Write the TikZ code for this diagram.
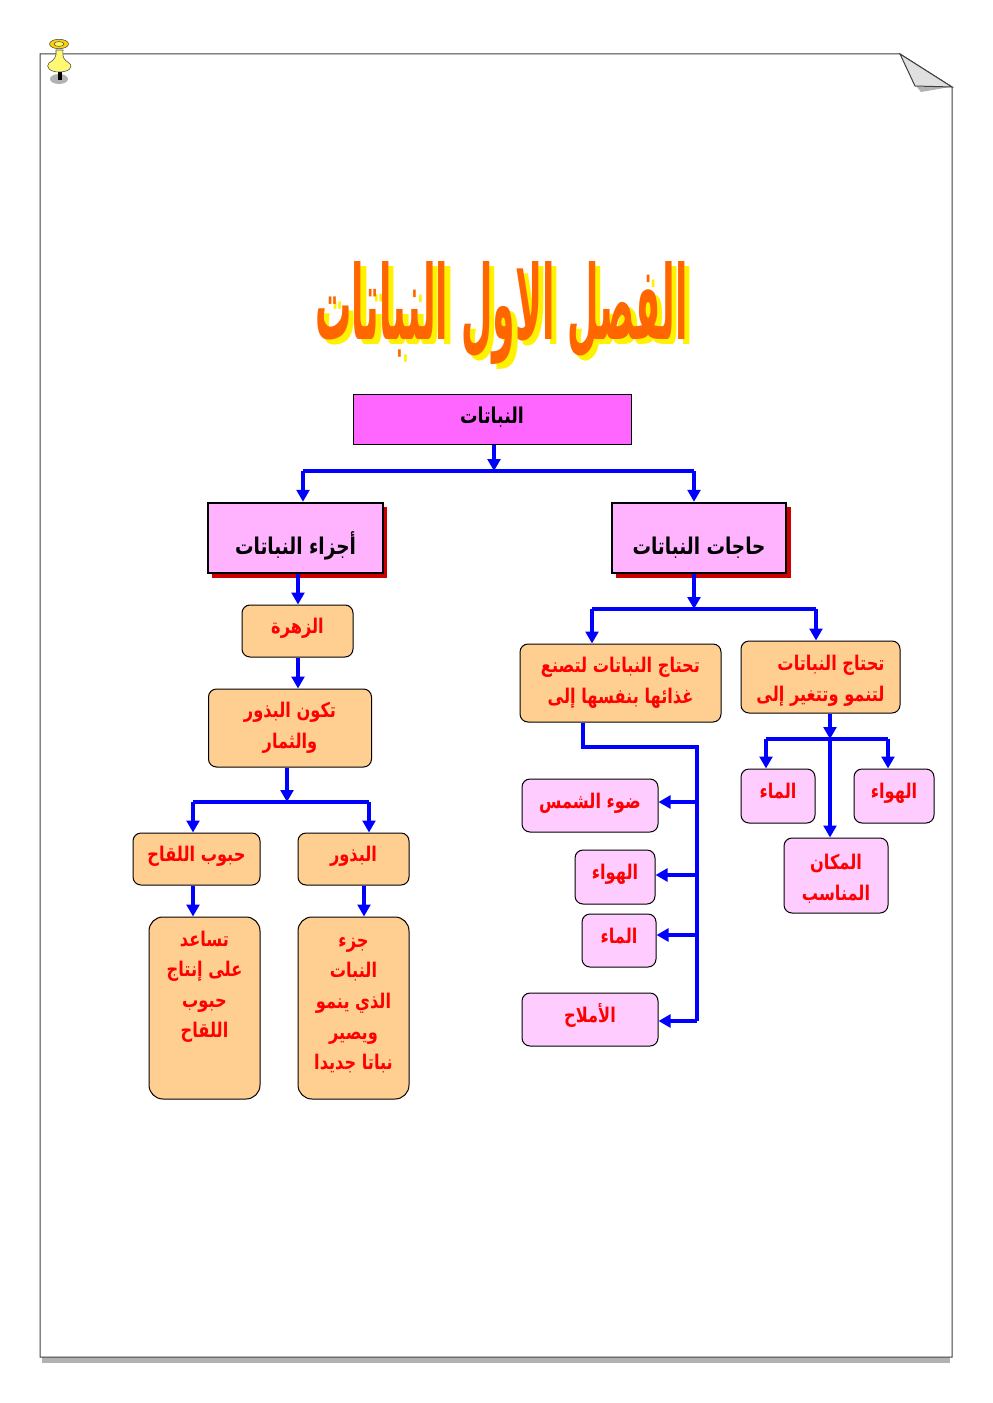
\documentclass[tikz,border=0pt]{standalone}
\usepackage{fontspec}
\usepackage{tikz}
\usetikzlibrary{arrows.meta}
\TeXXeTstate=1
\newfontfamily\arabicfont[Script=Arabic]{DejaVu Sans}
\newfontfamily\narrowfont[Script=Arabic,FakeStretch=0.8]{DejaVu Sans}
\newcommand{\arb}[1]{\beginR #1\endR}
\definecolor{rootpink}{HTML}{FF66FF}
\definecolor{headpink}{HTML}{FFB3FF}
\definecolor{lightpink}{HTML}{FFCCFF}
\definecolor{boxorange}{HTML}{FFCF91}
\definecolor{titleorange}{HTML}{FF6600}
\definecolor{shadowred}{HTML}{CC0000}
\tikzset{
  txt/.style={font=\fontsize{#1}{21.7}\selectfont\bfseries\narrowfont,align=center,inner sep=0pt},
  size/.style 2 args={minimum width=#1*0.25mm,minimum height=#2*0.25mm},
  one/.style={text height=11pt,text depth=7pt},
  org/.style={draw=black,line width=0.25mm,rounded corners=2mm,fill=boxorange,text=red,txt=14.4},
  pnk/.style={draw=black,line width=0.25mm,rounded corners=2mm,fill=lightpink,text=red,txt=14.4},
  hed/.style={draw=black,line width=0.6mm,fill=headpink,text=black,txt=16.4},
  lnk/.style={draw=blue,line width=1mm},
  arw/.style={lnk,-{Triangle[length=3mm,width=3.2mm]}}
}
\begin{document}
\begin{tikzpicture}[x=0.25mm,y=-0.25mm]
  \useasboundingbox (0,0) rectangle (992,1403);
  % page
  \fill[gray!60] (42,1357) rectangle (950,1363);
  \draw[black!75, line width = 0.25mm, fill=white] (40,54)--(900,54)--(952,87)--(952,1357)--(40,1357)--cycle;
  \fill[gray!60] (917,87)--(950,87)--(921,92)--cycle;
  \draw[black!75, line width = 0.25mm, fill=black!12] (900,54)--(915,86)--(952,87)--cycle;
  % pin
  \fill[gray!60] (59,79) ellipse (9 and 5);
  \fill[black] (58,70) rectangle (62,80);
  \draw[black!70, fill=yellow!55] (56,50) .. controls (57,57) and (54,60) .. (49,63)
     .. controls (45,67) and (50,72) .. (59,72) .. controls (69,72) and (74,67) .. (69,63)
     .. controls (64,60) and (62,57) .. (63,50)--cycle;
  \draw[black!70, fill=yellow!70!orange] (59,44) ellipse (9.5 and 4.7);
  \draw[black!70, fill=yellow!60] (59,44) ellipse (5 and 2.4);
  % title
  \node (S) at (507,318)[text=yellow,inner sep=0pt]{\resizebox{93mm}{19.5mm}{\bfseries\arabicfont\arb{الفصل الاول النباتات}}};
  \node (T) at (501.5,313.5)[text=titleorange,inner sep=0pt]{\resizebox{93mm}{19.5mm}{\bfseries\arabicfont\arb{الفصل الاول النباتات}}};
  % top boxes
  \node (R) at (492,419)[draw=black,line width=0.25mm,fill=rootpink,txt=15.5,size={278}{50}]{\raisebox{-3pt}[0pt][0pt]{\arb{النباتات}}};
  \fill[shadowred] (616,507) rectangle (791,578);
  \fill[shadowred] (212,507) rectangle (387,578);
  \node (N) at (699,538)[hed,size={174}{70}]{\raisebox{-12pt}[0pt][0pt]{\arb{حاجات النباتات}}};
  \node (P) at (295.5,538)[hed,size={175}{70}]{\raisebox{-12pt}[0pt][0pt]{\arb{أجزاء النباتات}}};
  % left side
  \node (A) at (297.5,631)[org,one,size={111}{52}]{\arb{الزهرة}};
  \node (B) at (290,728)[org,size={163}{78}]{\arb{تكون البذور}\\\arb{والثمار}};
  \node (C) at (196.5,859)[org,one,size={127}{52}]{\arb{حبوب اللقاح}};
  \node (D) at (353.5,859)[org,one,size={111}{52}]{\arb{البذور}};
  \node (E) at (204.5,1008)[org,rounded corners=3.5mm,size={111}{182}]{\arb{تساعد}\\\arb{على إنتاج}\\\arb{حبوب}\\\arb{اللقاح}\\[12pt] \mbox{}};
  \node (F) at (353.5,1008)[org,rounded corners=3.5mm,size={111}{182}]{\arb{جزء}\\\arb{النبات}\\\arb{الذي ينمو}\\\arb{ويصير}\\\arb{نباتا جديدا}\rule[-6.4pt]{0pt}{1pt}};
  % right side
  \node (G) at (820.5,677)[org,align=right,size={159}{72}]{\rule{0pt}{16pt}\arb{تحتاج النباتات}\\\arb{لتنمو وتتغير إلى}};
  \node (H) at (620.5,683)[org,size={201}{78}]{\arb{تحتاج النباتات لتصنع}\\\arb{غذائها بنفسها إلى}};
  \node (I) at (894,796)[pnk,one,size={80}{54}]{\arb{الهواء}};
  \node (J) at (778,796)[pnk,one,size={74}{54}]{\arb{الماء}};
  \node (K) at (836,875.5)[pnk,size={104}{75}]{\rule{0pt}{16pt}\arb{المكان}\\\arb{المناسب}};
  \node (L) at (590,805.5)[pnk,one,size={136}{53}]{\arb{ضوء الشمس}};
  \node (M) at (615,877)[pnk,one,size={80}{54}]{\arb{الهواء}};
  \node (O) at (619,940.5)[pnk,one,size={74}{53}]{\arb{الماء}};
  \node (Q) at (590,1019.5)[pnk,one,size={136}{53}]{\arb{الأملاح}};
  % junctions
  \coordinate (a) at (494,471);
  \coordinate (b) at (694,609);
  \coordinate (c) at (287,802);
  \coordinate (d) at (830,739);
  \coordinate (e) at (583,747);
  \coordinate (f) at (697,747);
  \coordinate (g) at (697,1021);
  % connectors
  \draw[arw](a |- R.south)--(a);
  \draw[lnk, line join=miter](303,471)--(694,471);
  \foreach \x/\n in {303/P, 694/N}{
  \draw[arw](a -| \x,0)--(\n.north -| \x,0);
  }
  \draw[arw](P.south -| 298,0)--(A.north -| 298,0);
  \draw[arw](A.south -| 298,0)--(B.north -| 298,0);
  \draw[arw](c |- B.south)--(c);
  \draw[lnk](193,802)--(369,802);
  \foreach \x/\n in {193/C, 369/D}{
  \draw[arw](c -| \x,0)--(\n.north -| \x,0);
  }
  \draw[arw](C.south -| 193,0)--(E.north -| 193,0);
  \draw[arw](D.south -| 364,0)--(F.north -| 364,0);
  \draw[arw](b |- N.south)--(b);
  \draw[lnk](592,609)--(816,609);
  \draw[arw](592,609)--(H.north -| 592,0);
  \draw[arw](816,609)--(G.north -| 816,0);
  \draw[arw](d |- G.south)--(d);
  \draw[lnk](766,739)--(888,739);
  \draw[arw](766,739)--(J.north -| 766,0);
  \draw[arw](888,739)--(I.north -| 888,0);
  \draw[arw](d)--(K.north -| d);
  \draw[lnk, line join=miter](e |- H.south)--(e)--(f)--(g);
  \draw[arw](g)--(Q.east |- g);
  \foreach \n/\y in {L/802, M/875, O/935}{
  \draw[arw](f |- 0,\y)--(\n.east |- 0,\y);
  }
\end{tikzpicture}
\end{document}
